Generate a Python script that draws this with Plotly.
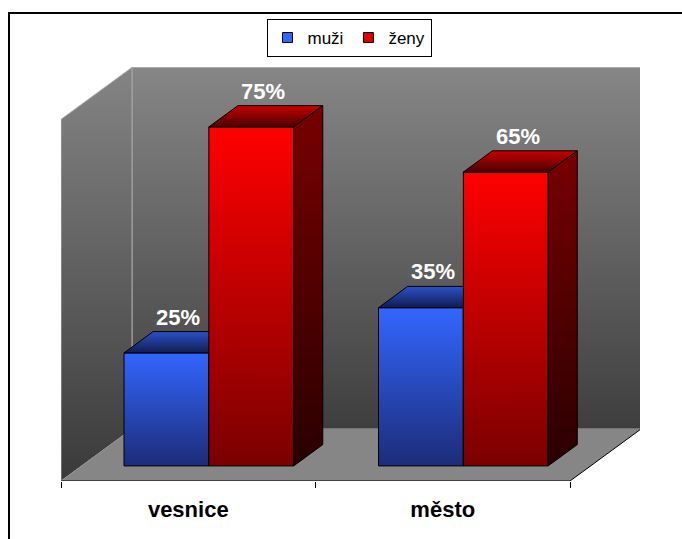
import plotly.graph_objects as go

# ---- data ----
categories = ["vesnice", "město"]
series_names = ["muži", "ženy"]
muzi = [25, 35]
zeny = [75, 65]
axis_max = 80

# ---- styles ----
FONT = "Liberation Sans, Arial, sans-serif"
front_colors = {"muži": ("#1c2c78", "#3366ff"), "ženy": ("#7a0000", "#ff0000")}
top_colors = {"muži": ("#101c50", "#2a52c8"), "ženy": ("#4a0000", "#c80000")}
side_colors = {"muži": ("#0a1030", "#1a2a70"), "ženy": ("#2a0000", "#780000")}
legend_colors = {"muži": "#3366ff", "ženy": "#dd0000"}

# ---- layout geometry (pixels) ----
W, H = 682, 539
PL, PR, PT, PB = 61, 640, 67, 481
UNIT_PX = 254.5      # pixels per category
PCT_PX = 4.52        # pixels per percent
DEPTH_PX = (71, 52)  # oblique depth offset

X0 = -0.5
XR = X0 + (PR - PL) / UNIT_PX
YR = (PB - PT) / PCT_PX
DX = DEPTH_PX[0] / UNIT_PX
DY = DEPTH_PX[1] / PCT_PX
D0, D1 = 0.29, 0.70  # bar depth span


def proj(x, y, d):
    return x + d * DX, y + d * DY


def poly(points):
    xs = [p[0] for p in points] + [points[0][0]]
    ys = [p[1] for p in points] + [points[0][1]]
    return xs, ys


fig = go.Figure()


def add_face(points, colors, line_color="black", line_width=1):
    xs, ys = poly(points)
    fig.add_trace(go.Scatter(
        x=xs, y=ys, mode="lines", fill="toself",
        fillgradient=dict(type="vertical", colorscale=[[0, colors[0]], [1, colors[1]]]),
        line=dict(color=line_color, width=line_width),
        hoverinfo="skip", showlegend=False))


n = len(categories)
xl, xr = -0.5, n - 0.5

# back wall
add_face([proj(xl, 0, 1), proj(xr, 0, 1), proj(xr, axis_max, 1), proj(xl, axis_max, 1)],
         ("#3e3e3e", "#868686"), line_color="#a8a8a8")
# left wall
add_face([proj(xl, 0, 0), proj(xl, 0, 1), proj(xl, axis_max, 1), proj(xl, axis_max, 0)],
         ("#3a3a3a", "#848484"), line_color="#a8a8a8")
# floor
fx, fy = poly([proj(xl, 0, 0), proj(xr, 0, 0), proj(xr, 0, 1), proj(xl, 0, 1)])
fig.add_trace(go.Scatter(x=fx, y=fy, mode="lines", fill="toself", fillcolor="#868686",
                         line=dict(width=0), hoverinfo="skip", showlegend=False))
# floor front and right edges
ex = [proj(xl, 0, 0)[0], proj(xr, 0, 0)[0], proj(xr, 0, 1)[0]]
ey = [proj(xl, 0, 0)[1], proj(xr, 0, 0)[1], proj(xr, 0, 1)[1]]
fig.add_trace(go.Scatter(x=ex, y=ey, mode="lines", line=dict(color="black", width=1),
                         hoverinfo="skip", showlegend=False))

annotations = []
series_values = {"muži": muzi, "ženy": zeny}
for ci, cat in enumerate(categories):
    for si, name in enumerate(series_names):
        v = series_values[name][ci]
        x0 = ci - 1 / 3 + si / 3
        x1 = x0 + 1 / 3
        # front
        add_face([proj(x0, 0, D0), proj(x1, 0, D0), proj(x1, v, D0), proj(x0, v, D0)],
                 front_colors[name])
        # top
        add_face([proj(x0, v, D0), proj(x1, v, D0), proj(x1, v, D1), proj(x0, v, D1)],
                 top_colors[name])
        # side
        add_face([proj(x1, 0, D0), proj(x1, 0, D1), proj(x1, v, D1), proj(x1, v, D0)],
                 side_colors[name])
        lx, _ = proj((x0 + x1) / 2, v, 0.46)
        _, ly = proj(x0, v, D1)
        annotations.append(dict(x=lx, y=ly, text=f"{v}%", showarrow=False,
                                xanchor="center", yanchor="bottom", yshift=0,
                                font=dict(family=FONT, size=22, color="white", weight="bold")))

# legend entries
for name in series_names:
    fig.add_trace(go.Scatter(x=[None], y=[None], mode="markers", name=name,
                             marker=dict(symbol="square", size=10, color=legend_colors[name],
                                         line=dict(color="black", width=1))))

fig.update_layout(
    width=W, height=H,
    margin=dict(l=PL, r=W - PR, t=PT, b=H - PB),
    paper_bgcolor="white", plot_bgcolor="white",
    font=dict(family=FONT, color="black"),
    annotations=annotations,
    legend=dict(orientation="h", x=(349 - PL) / (PR - PL), xanchor="center",
                y=(PB - 19) / (PB - PT), yanchor="top",
                bgcolor="white", bordercolor="black", borderwidth=1,
                font=dict(size=17, family=FONT), itemwidth=30, tracegroupgap=0),
    xaxis=dict(range=[X0, XR], showgrid=False, zeroline=False, showline=False,
               tickvals=list(range(n)), ticktext=categories, ticks="",
               ticklabelstandoff=13,
               tickfont=dict(size=22, family=FONT, color="black", weight="bold"),
               minor=dict(tickvals=[xl + i for i in range(n + 1)], ticks="outside",
                          ticklen=6, tickcolor="black", tickwidth=1),
               fixedrange=True),
    yaxis=dict(range=[0, YR], visible=False, showgrid=False, zeroline=False, fixedrange=True),
    shapes=[dict(type="rect", xref="paper", yref="paper",
                 x0=(9 - PL) / (PR - PL), x1=(700 - PL) / (PR - PL),
                 y0=(PB - 560) / (PB - PT), y1=(PB - 13) / (PB - PT),
                 line=dict(color="black", width=2), layer="below")],
)

fig.write_html("out.html")
